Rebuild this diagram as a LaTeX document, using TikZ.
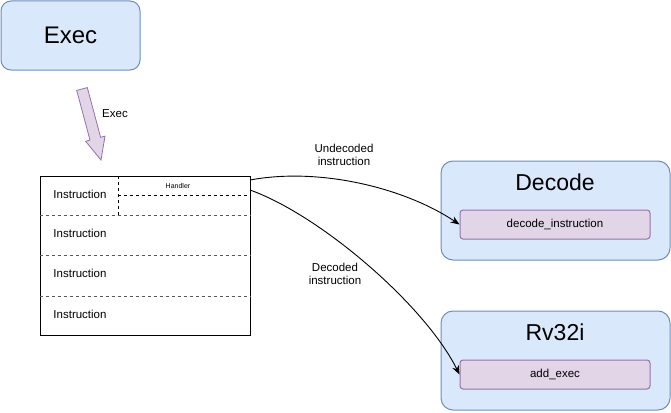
\documentclass[tikz,border=0pt]{standalone}
\usepackage{fontspec}
\setmainfont{Liberation Sans}
\usetikzlibrary{arrows.meta}
\definecolor{boxblue}{HTML}{DAE8FC}
\definecolor{edgeblue}{HTML}{6C8EBF}
\definecolor{boxlilac}{HTML}{E1D5E7}
\definecolor{edgelilac}{HTML}{9673A6}

\begin{document}
\begin{tikzpicture}[x=1pt, y=-1pt, line width=1pt,
  module/.style={rectangle, draw=edgeblue, fill=boxblue, rounded corners=12pt,
               minimum width=229pt, minimum height=99pt},
  func/.style={rectangle, draw=edgelilac, fill=boxlilac, rounded corners=3pt,
               minimum width=190pt, minimum height=29pt, font=\fontsize{11.5}{13}\selectfont},
  title/.style={font=\fontsize{23}{26}\selectfont},
  instr/.style={font=\fontsize{11.5}{13}\selectfont},
  note/.style={font=\fontsize{11.5}{13.5}\selectfont, align=center},
  rowsep/.style={dash pattern=on 3pt off 3pt, black!65},
  cellsep/.style={dash pattern=on 3pt off 3pt},
  arrow/.style={-{Stealth[length=9pt, width=7pt]}, line width=0.9pt},
]
\useasboundingbox (0,0) rectangle (671,412);

% exec module
\node[rectangle, draw=edgeblue, fill=boxblue, rounded corners=10pt,
      minimum width=139pt, minimum height=69pt,
      font=\fontsize{24}{28}\selectfont] (exec) at (70.5,35.5) {Exec};

% block arrow into the table
\filldraw[draw=edgelilac, fill=boxlilac, line width=0.8pt]
  (87.3,87.6) -- (100.6,137.3) -- (105,136.1) -- (101,160)
  -- (85.6,141.3) -- (90,140.1) -- (76.7,90.4) -- cycle;
\node[instr] (execlbl) at (115,114) {Exec};

% instruction table
\node[rectangle, draw, fill=white, minimum width=210pt, minimum height=159pt] (tbl) at (145,255.5) {};
\draw[cellsep] (118,176) -- (118,215);
\draw[cellsep] (118,195) -- (tbl.east |- 0,195);
\foreach \y in {215,255,296} {
  \draw[rowsep] (tbl.west |- 0,\y) -- (tbl.east |- 0,\y);
}
\node[instr] (i1) at (80,194) {Instruction};
\node[instr] (i2) at (80,233) {Instruction};
\node[instr] (i3) at (80,273) {Instruction};
\node[instr] (i4) at (80,314) {Instruction};
\node[font=\fontsize{7}{8}\selectfont] (hdl) at (178,186) {Handler};

% target modules
\node[module] (decode) at (555.5,210.5) {};
\node[title] (decodettl) at (555,182) {Decode};
\node[func] (decfn) at (555,224.5) {decode\_instruction};

\node[module] (rv) at (555.5,360.5) {};
\node[title] (rvttl) at (555,332) {Rv32i};
\node[func] (addfn) at (555,374.5) {add\_exec};

% connectors
\coordinate (tbltop) at (250,180);
\coordinate (tblmid) at (250,190);
\draw[arrow] (tbltop) .. controls (320,167) and (405,188) .. (decfn.west);
\draw[arrow] (tblmid) .. controls (320,215) and (425,305) .. (addfn.west);

\node[note] (undec) at (344,155) {Undecoded\\instruction};
\node[note] (dec) at (335,274) {Decoded\\instruction};

\end{tikzpicture}
\end{document}
